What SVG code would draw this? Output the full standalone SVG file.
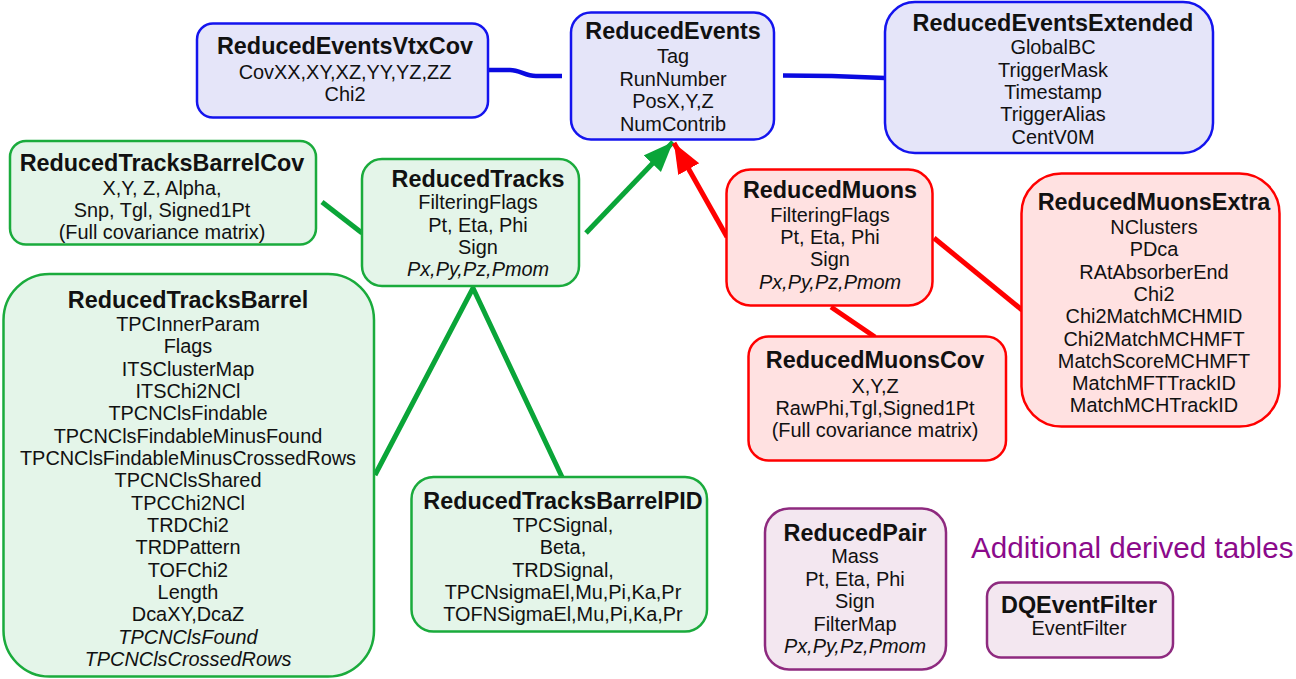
<svg xmlns="http://www.w3.org/2000/svg" width="1296" height="679" viewBox="0 0 1296 679">
<style>
text{font-family:"Liberation Sans",Arial,sans-serif;fill:#111;text-anchor:middle}
.t{font-size:23.4px;font-weight:bold}
.b{font-size:19.9px}
.i{font-style:italic}
.blue{fill:#e5e5f9;stroke:#1414ee;stroke-width:2.5}
.green{fill:#e4f5e9;stroke:#1aab3c;stroke-width:2.5}
.red{fill:#ffe1e1;stroke:#ff0000;stroke-width:2.5}
.purple{fill:#f3e7f0;stroke:#8e2a7f;stroke-width:2.5}
.cb{fill:none;stroke:#0a0ae0;stroke-width:4.5}
.cg{fill:none;stroke:#0aa538;stroke-width:5}
.cr{fill:none;stroke:#ff0000;stroke-width:5}
</style>
<defs>
<marker id="ag" markerUnits="userSpaceOnUse" markerWidth="32" markerHeight="26" refX="30" refY="12" orient="auto">
<path d="M0,0 L30,12 L0,24 Z" fill="#0aa538"/>
</marker>
<marker id="ar" markerUnits="userSpaceOnUse" markerWidth="32" markerHeight="26" refX="30" refY="12" orient="auto">
<path d="M0,0 L30,12 L0,24 Z" fill="#ff0000"/>
</marker>
</defs>
<g id="connectors">
<path class="cb" d="M489,70 L510,70 C520,70 525,76 536,76 L562,76"/>
<path class="cb" d="M783,75.5 L832,76 L885,78"/>
<path class="cg" d="M322,202 L362,233"/>
<path class="cg" d="M586,233 L673,142" marker-end="url(#ag)"/>
<path class="cr" d="M727,237 L674,143" marker-end="url(#ar)"/>
<path class="cr" d="M934,238 L1022,310"/>
<path class="cr" d="M831,307 L875,337"/>
<path class="cg" d="M375,475 L473,288 L562,477"/>
</g>
<g id="ReducedEventsVtxCov">
<rect class="blue" x="197" y="23.5" width="291" height="94" rx="16"/>
<text class="t" x="345" y="54">ReducedEventsVtxCov</text>
<text class="b" x="345" y="79">CovXX,XY,XZ,YY,YZ,ZZ</text>
<text class="b" x="345" y="101">Chi2</text>
</g>
<g id="ReducedEvents">
<rect class="blue" x="571" y="12.5" width="203" height="127" rx="20"/>
<text class="t" x="673" y="39">ReducedEvents</text>
<text class="b" x="673" y="63.3">Tag</text>
<text class="b" x="673" y="85.7">RunNumber</text>
<text class="b" x="673" y="108">PosX,Y,Z</text>
<text class="b" x="673" y="130.5">NumContrib</text>
</g>
<g id="ReducedEventsExtended">
<rect class="blue" x="885" y="2" width="328" height="151" rx="30"/>
<text class="t" x="1053" y="31">ReducedEventsExtended</text>
<text class="b" x="1053" y="54.3">GlobalBC</text>
<text class="b" x="1053" y="76.7">TriggerMask</text>
<text class="b" x="1053" y="99">Timestamp</text>
<text class="b" x="1053" y="121.3">TriggerAlias</text>
<text class="b" x="1053" y="143.5">CentV0M</text>
</g>
<g id="ReducedTracksBarrelCov">
<rect class="green" x="10" y="141" width="306" height="103.5" rx="16"/>
<text class="t" x="162" y="170.7">ReducedTracksBarrelCov</text>
<text class="b" x="162" y="194.5">X,Y, Z, Alpha,</text>
<text class="b" x="162" y="217">Snp, Tgl, Signed1Pt</text>
<text class="b" x="162" y="239.3">(Full covariance matrix)</text>
</g>
<g id="ReducedTracks">
<rect class="green" x="362" y="159" width="217" height="127" rx="20"/>
<text class="t" x="478" y="186.7">ReducedTracks</text>
<text class="b" x="478" y="209">FilteringFlags</text>
<text class="b" x="478" y="231.5">Pt, Eta, Phi</text>
<text class="b" x="478" y="254">Sign</text>
<text class="b i" x="478" y="276">Px,Py,Pz,Pmom</text>
</g>
<g id="ReducedMuons">
<rect class="red" x="726.5" y="169.5" width="206" height="136" rx="24"/>
<text class="t" x="830" y="198.3">ReducedMuons</text>
<text class="b" x="830" y="221.7">FilteringFlags</text>
<text class="b" x="830" y="244">Pt, Eta, Phi</text>
<text class="b" x="830" y="266.3">Sign</text>
<text class="b i" x="830" y="288.5">Px,Py,Pz,Pmom</text>
</g>
<g id="ReducedMuonsExtra">
<rect class="red" x="1021.5" y="173.5" width="258" height="253" rx="40"/>
<text class="t" x="1154" y="210">ReducedMuonsExtra</text>
<text class="b" x="1154" y="234">NClusters</text>
<text class="b" x="1154" y="256.3">PDca</text>
<text class="b" x="1154" y="278.6">RAtAbsorberEnd</text>
<text class="b" x="1154" y="301">Chi2</text>
<text class="b" x="1154" y="323.2">Chi2MatchMCHMID</text>
<text class="b" x="1154" y="345.5">Chi2MatchMCHMFT</text>
<text class="b" x="1154" y="367.8">MatchScoreMCHMFT</text>
<text class="b" x="1154" y="390">MatchMFTTrackID</text>
<text class="b" x="1154" y="412.3">MatchMCHTrackID</text>
</g>
<g id="ReducedMuonsCov">
<rect class="red" x="748.5" y="336.5" width="257.5" height="124" rx="20"/>
<text class="t" x="875" y="368.3">ReducedMuonsCov</text>
<text class="b" x="875" y="392.7">X,Y,Z</text>
<text class="b" x="875" y="414.5">RawPhi,Tgl,Signed1Pt</text>
<text class="b" x="875" y="436.7">(Full covariance matrix)</text>
</g>
<g id="ReducedTracksBarrel">
<rect class="green" x="3.5" y="274" width="370.5" height="402.5" rx="46"/>
<text class="t" x="188" y="307.7">ReducedTracksBarrel</text>
<text class="b" x="188" y="331">TPCInnerParam</text>
<text class="b" x="188" y="353.3">Flags</text>
<text class="b" x="188" y="375.7">ITSClusterMap</text>
<text class="b" x="188" y="398">ITSChi2NCl</text>
<text class="b" x="188" y="420.3">TPCNClsFindable</text>
<text class="b" x="188" y="442.7">TPCNClsFindableMinusFound</text>
<text class="b" x="188" y="465">TPCNClsFindableMinusCrossedRows</text>
<text class="b" x="188" y="487.3">TPCNClsShared</text>
<text class="b" x="188" y="509.7">TPCChi2NCl</text>
<text class="b" x="188" y="532">TRDChi2</text>
<text class="b" x="188" y="554.3">TRDPattern</text>
<text class="b" x="188" y="576.7">TOFChi2</text>
<text class="b" x="188" y="599">Length</text>
<text class="b" x="188" y="621.3">DcaXY,DcaZ</text>
<text class="b i" x="188" y="643.7">TPCNClsFound</text>
<text class="b i" x="188" y="666">TPCNClsCrossedRows</text>
</g>
<g id="ReducedTracksBarrelPID">
<rect class="green" x="411.5" y="477" width="295.5" height="154.5" rx="22"/>
<text class="t" x="563" y="509">ReducedTracksBarrelPID</text>
<text class="b" x="563" y="531.7">TPCSignal,</text>
<text class="b" x="563" y="554">Beta,</text>
<text class="b" x="563" y="576.5">TRDSignal,</text>
<text class="b" x="563" y="598.8">TPCNsigmaEl,Mu,Pi,Ka,Pr</text>
<text class="b" x="563" y="621">TOFNSigmaEl,Mu,Pi,Ka,Pr</text>
</g>
<g id="ReducedPair">
<rect class="purple" x="765" y="508.5" width="181" height="161" rx="24"/>
<text class="t" x="855" y="540.7">ReducedPair</text>
<text class="b" x="855" y="563.3">Mass</text>
<text class="b" x="855" y="586">Pt, Eta, Phi</text>
<text class="b" x="855" y="608.3">Sign</text>
<text class="b" x="855" y="630.7">FilterMap</text>
<text class="b i" x="855" y="653">Px,Py,Pz,Pmom</text>
</g>
<g id="DQEventFilter">
<rect class="purple" x="987" y="582.5" width="186" height="75" rx="14"/>
<text class="t" x="1079" y="612.7">DQEventFilter</text>
<text class="b" x="1079" y="635">EventFilter</text>
</g>
<text x="971" y="558.3" style="font-size:29.6px;fill:#8b0a8b;text-anchor:start">Additional derived tables</text>
</svg>
